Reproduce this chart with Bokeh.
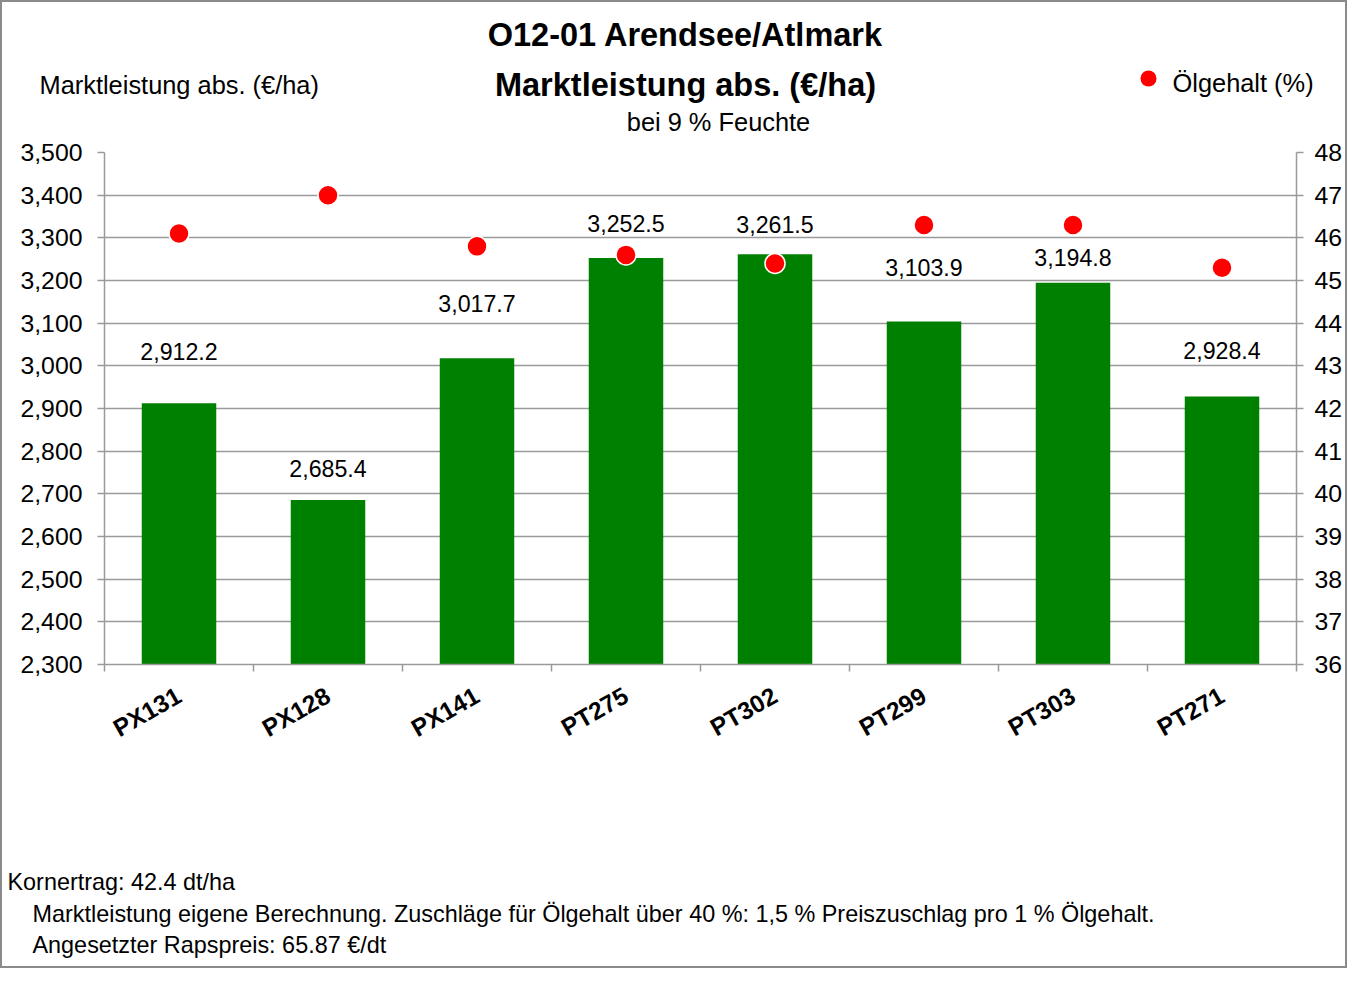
from bokeh.plotting import figure
from bokeh.layouts import column
from bokeh.models import (Range1d, LinearAxis, FixedTicker, NumeralTickFormatter,
                          LabelSet, ColumnDataSource)
from bokeh.core.properties import value
from bokeh.embed import file_html
from bokeh.resources import INLINE

# ---- data ----
varieties = ["PX131", "PX128", "PX141", "PT275", "PT302", "PT299", "PT303", "PT271"]
marktleistung = [2912.2, 2685.4, 3017.7, 3252.5, 3261.5, 3103.9, 3194.8, 2928.4]
oelgehalt = [46.1, 47.0, 45.8, 45.6, 45.4, 46.3, 46.3, 45.3]
left_ticks = list(range(2300, 3501, 100))
right_ticks = list(range(36, 49))

title_1 = "O12-01 Arendsee/Atlmark"
title_2 = "Marktleistung abs. (€/ha)"
subtitle = "bei 9 % Feuchte"
left_title = "Marktleistung abs. (€/ha)"
legend_label = "Ölgehalt (%)"
notes = ["Kornertrag: 42.4 dt/ha",
         "Marktleistung eigene Berechnung. Zuschläge für Ölgehalt über 40 %: 1,5 % Preiszuschlag pro 1 % Ölgehalt.",
         "Angesetzter Rapspreis: 65.87 €/dt"]

# per-label lift (px) of the value labels above the bars (layout only)
label_lift_px = [52, 32, 55, 35, 30, 54, 25, 46]

FONT = "Liberation Sans"
GRID = "#9a9a9a"
W = 1343
TOP_H = 136
MAIN_H = 636
BOT_H = 192

# ---------------- top strip (titles + legend) ----------------
top = figure(width=W, height=TOP_H, x_range=Range1d(0, W), y_range=Range1d(TOP_H, 0),
             min_border=0, output_backend="svg", toolbar_location=None,
             x_axis_location=None, y_axis_location=None)
top.grid.visible = False
top.outline_line_color = None


def ttext(fig, txt, x, y, size, bold=False, align="left"):
    fig.text(x=[x], y=[y], text=[txt], text_font=value(FONT), text_font_size=f"{size}px",
             text_font_style="bold" if bold else "normal", text_align=align,
             text_baseline="middle", text_color="black")


ttext(top, title_1, 683, 32, 32.5, bold=True, align="center")
ttext(top, title_2, 683, 82, 32.5, bold=True, align="center")
ttext(top, subtitle, 716, 119, 25.4, align="center")
ttext(top, left_title, 37, 82, 25.4)
top.scatter(x=[1146], y=[76], size=16, fill_color="#ff0000", line_color=None)
ttext(top, legend_label, 1170, 80, 25.4)

# ---------------- main chart ----------------
xpos = list(range(len(varieties)))
src = ColumnDataSource(dict(
    x=xpos, ml=marktleistung, oil=oelgehalt,
    lab=[f"{v:,.1f}" for v in marktleistung], lift=label_lift_px))

FL, FR = 102, 1296           # frame left / right (canvas px)
FT, FB = 14, 526             # frame top / bottom inside main figure

p = figure(width=W, height=MAIN_H, x_range=Range1d(-0.5, len(varieties) - 0.5),
           y_range=Range1d(left_ticks[0], left_ticks[-1]),
           min_border_left=FL, min_border_right=W - FR, min_border_top=FT,
           min_border_bottom=MAIN_H - FB, output_backend="svg", toolbar_location=None)
p.outline_line_color = None
p.xgrid.grid_line_color = None
p.ygrid.grid_line_color = GRID
p.ygrid.grid_line_width = 1.5
p.extra_y_ranges = {"oil": Range1d(right_ticks[0], right_ticks[-1])}

p.vbar(x="x", top="ml", bottom=left_ticks[0], width=0.5, source=src,
       fill_color="#008000", line_color=None)

p.add_layout(LabelSet(x="x", y="ml", text="lab", source=src, y_offset="lift",
                      text_align="center", text_baseline="middle",
                      text_font=value(FONT), text_font_size="23.2px", text_color="black"))

p.scatter(x="x", y="oil", y_range_name="oil", source=src, size=20,
          fill_color="#ff0000", line_color="white", line_width=1.5)

ya = p.yaxis[0]
ya.ticker = FixedTicker(ticks=left_ticks)
ya.formatter = NumeralTickFormatter(format="0,0")
xa = p.xaxis[0]
xa.ticker = FixedTicker(ticks=xpos, minor_ticks=[i - 0.5 for i in range(len(varieties) + 1)])
xa.major_label_overrides = {i: v for i, v in zip(xpos, varieties)}
xa.major_label_orientation = 0.52
xa.major_tick_line_color = None
xa.minor_tick_in = 0
xa.minor_tick_out = 7
xa.minor_tick_line_color = GRID
xa.minor_tick_line_width = 1.5
xa.major_label_text_font_style = "bold"
xa.major_label_text_font_size = "24.5px"
xa.major_label_standoff = 22

ra = LinearAxis(y_range_name="oil", ticker=FixedTicker(ticks=right_ticks))
p.add_layout(ra, "right")

for ax in (ya, ra, xa):
    ax.axis_line_color = GRID
    ax.axis_line_width = 1.5
    ax.major_label_text_font = FONT
    ax.major_label_text_color = "black"
for ax in (ya, ra):
    ax.major_tick_in = 0
    ax.major_tick_out = 7
    ax.major_tick_line_color = GRID
    ax.major_tick_line_width = 1.5
    ax.minor_tick_line_color = None
    ax.major_label_text_font_size = "24.8px"
ya.major_label_standoff = 15
ra.major_label_standoff = 11

# ---------------- bottom notes ----------------
bot = figure(width=W, height=BOT_H, x_range=Range1d(0, W), y_range=Range1d(BOT_H, 0),
             min_border=0, output_backend="svg", toolbar_location=None,
             x_axis_location=None, y_axis_location=None)
bot.grid.visible = False
bot.outline_line_color = None
ttext(bot, notes[0], 5, 107, 23.4)
ttext(bot, notes[1], 30, 139, 23.4)
ttext(bot, notes[2], 30, 170, 23.4)

# wrap the text strips separately so their frames are not aligned with the chart frame
layout = column(column(top), p, column(bot), spacing=0)
layout.styles = {"border": "2px solid #8a8a8a"}

open("out.html", "w").write(file_html(layout, INLINE))
